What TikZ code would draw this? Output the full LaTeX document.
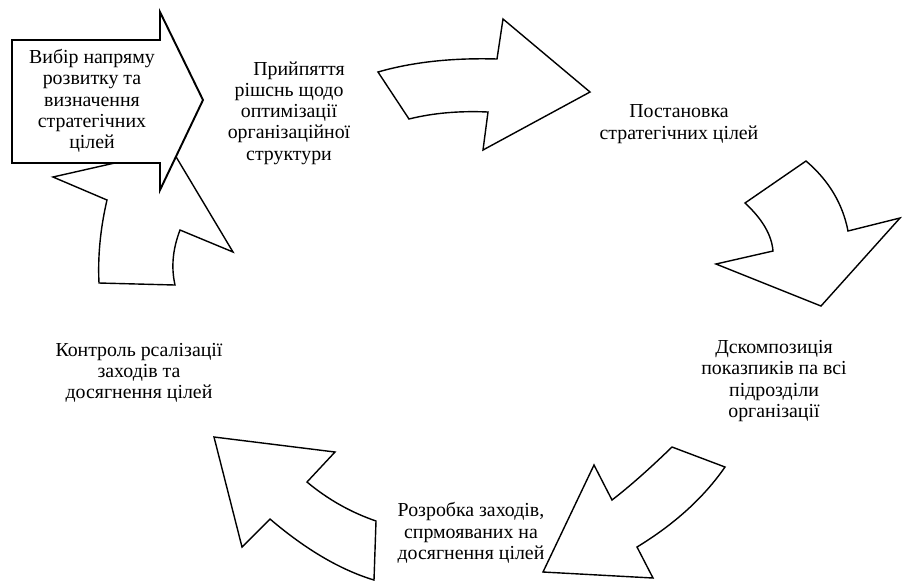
\documentclass[tikz,border=0pt]{standalone}
\usepackage{fontspec}
\setmainfont{Liberation Serif}
\usetikzlibrary{shapes,arrows}
\tikzstyle{blockarrow} = [draw, fill=white, line width=0.8pt, line join=miter]
\tikzstyle{mainarrow} = [blockarrow, line width=1.1pt]
\tikzstyle{stage} = [align=center, inner sep=0pt, font=\fontsize{11.3}{12.1}\selectfont]

\begin{document}
\begin{tikzpicture}[x=0.02cm, y=-0.02cm]
		\useasboundingbox (0,0) rectangle (902,583);

		% arrows of the cycle
		\draw [blockarrow] (53,177) -- (107,200) .. controls (100.3,228.7) and (97.7,256.3) .. (99,283) -- (175,285) .. controls (171,267) and (172.7,249.3) .. (180,230) -- (233,252) -- (172,150) -- cycle;
		\draw [mainarrow] (12,40) -- (160,40) -- (160,12) -- (203,100) -- (160,190) -- (160,163) -- (12,163) -- cycle;
		\draw [blockarrow] (378,72) .. controls (412.7,62) and (452.3,57.7) .. (497,59) -- (503,19) -- (590,92) -- (483,150) -- (488,112) .. controls (459.3,110.7) and (433,113) .. (409,119) -- cycle;
		\draw [blockarrow] (806,161) .. controls (828.7,180.3) and (842.7,203.7) .. (848,231) -- (900,218) -- (821,306) -- (716,264) -- (773,251) .. controls (771.7,235) and (762.3,219) .. (745,203) -- cycle;
		\draw [blockarrow] (672,447) -- (725,467) .. controls (703.7,497.7) and (674.3,524.3) .. (637,547) -- (653,578) -- (543,572) -- (594,465) -- (612,500) .. controls (629.3,486.7) and (649.3,469) .. (672,447) -- cycle;
		\draw [blockarrow] (214,437) -- (335,452) -- (307,482) .. controls (327.7,499.3) and (350.7,512.3) .. (376,521) -- (374,580) .. controls (340.7,570) and (306,549.7) .. (270,519) -- (242,547) -- cycle;

		% stages
		\node [stage] (choice) at (92,101) {Вибір напряму\\розвитку та\\визначення\\стратегічних\\цілей};
		\node [stage] (decision) at (289,113) {\hspace*{0.4cm}Прийпяття\\рішснь щодо\\оптимізації\\організаційної\\структури};
		\node [stage] (setting) at (679,124) {Постановка\\стратегічних цілей};
		\node [stage] (decomp) at (774,381) {Дскомпозиція\\показпиків па всі\\підрозділи\\організації};
		\node [stage] (measures) at (471,533) {Розробка заходів,\\спрмояваних на\\досягнення цілей};
		\node [stage] (control) at (139,373) {Контроль рсалізації\\заходів та\\досягнення цілей};
	\end{tikzpicture}
\end{document}
